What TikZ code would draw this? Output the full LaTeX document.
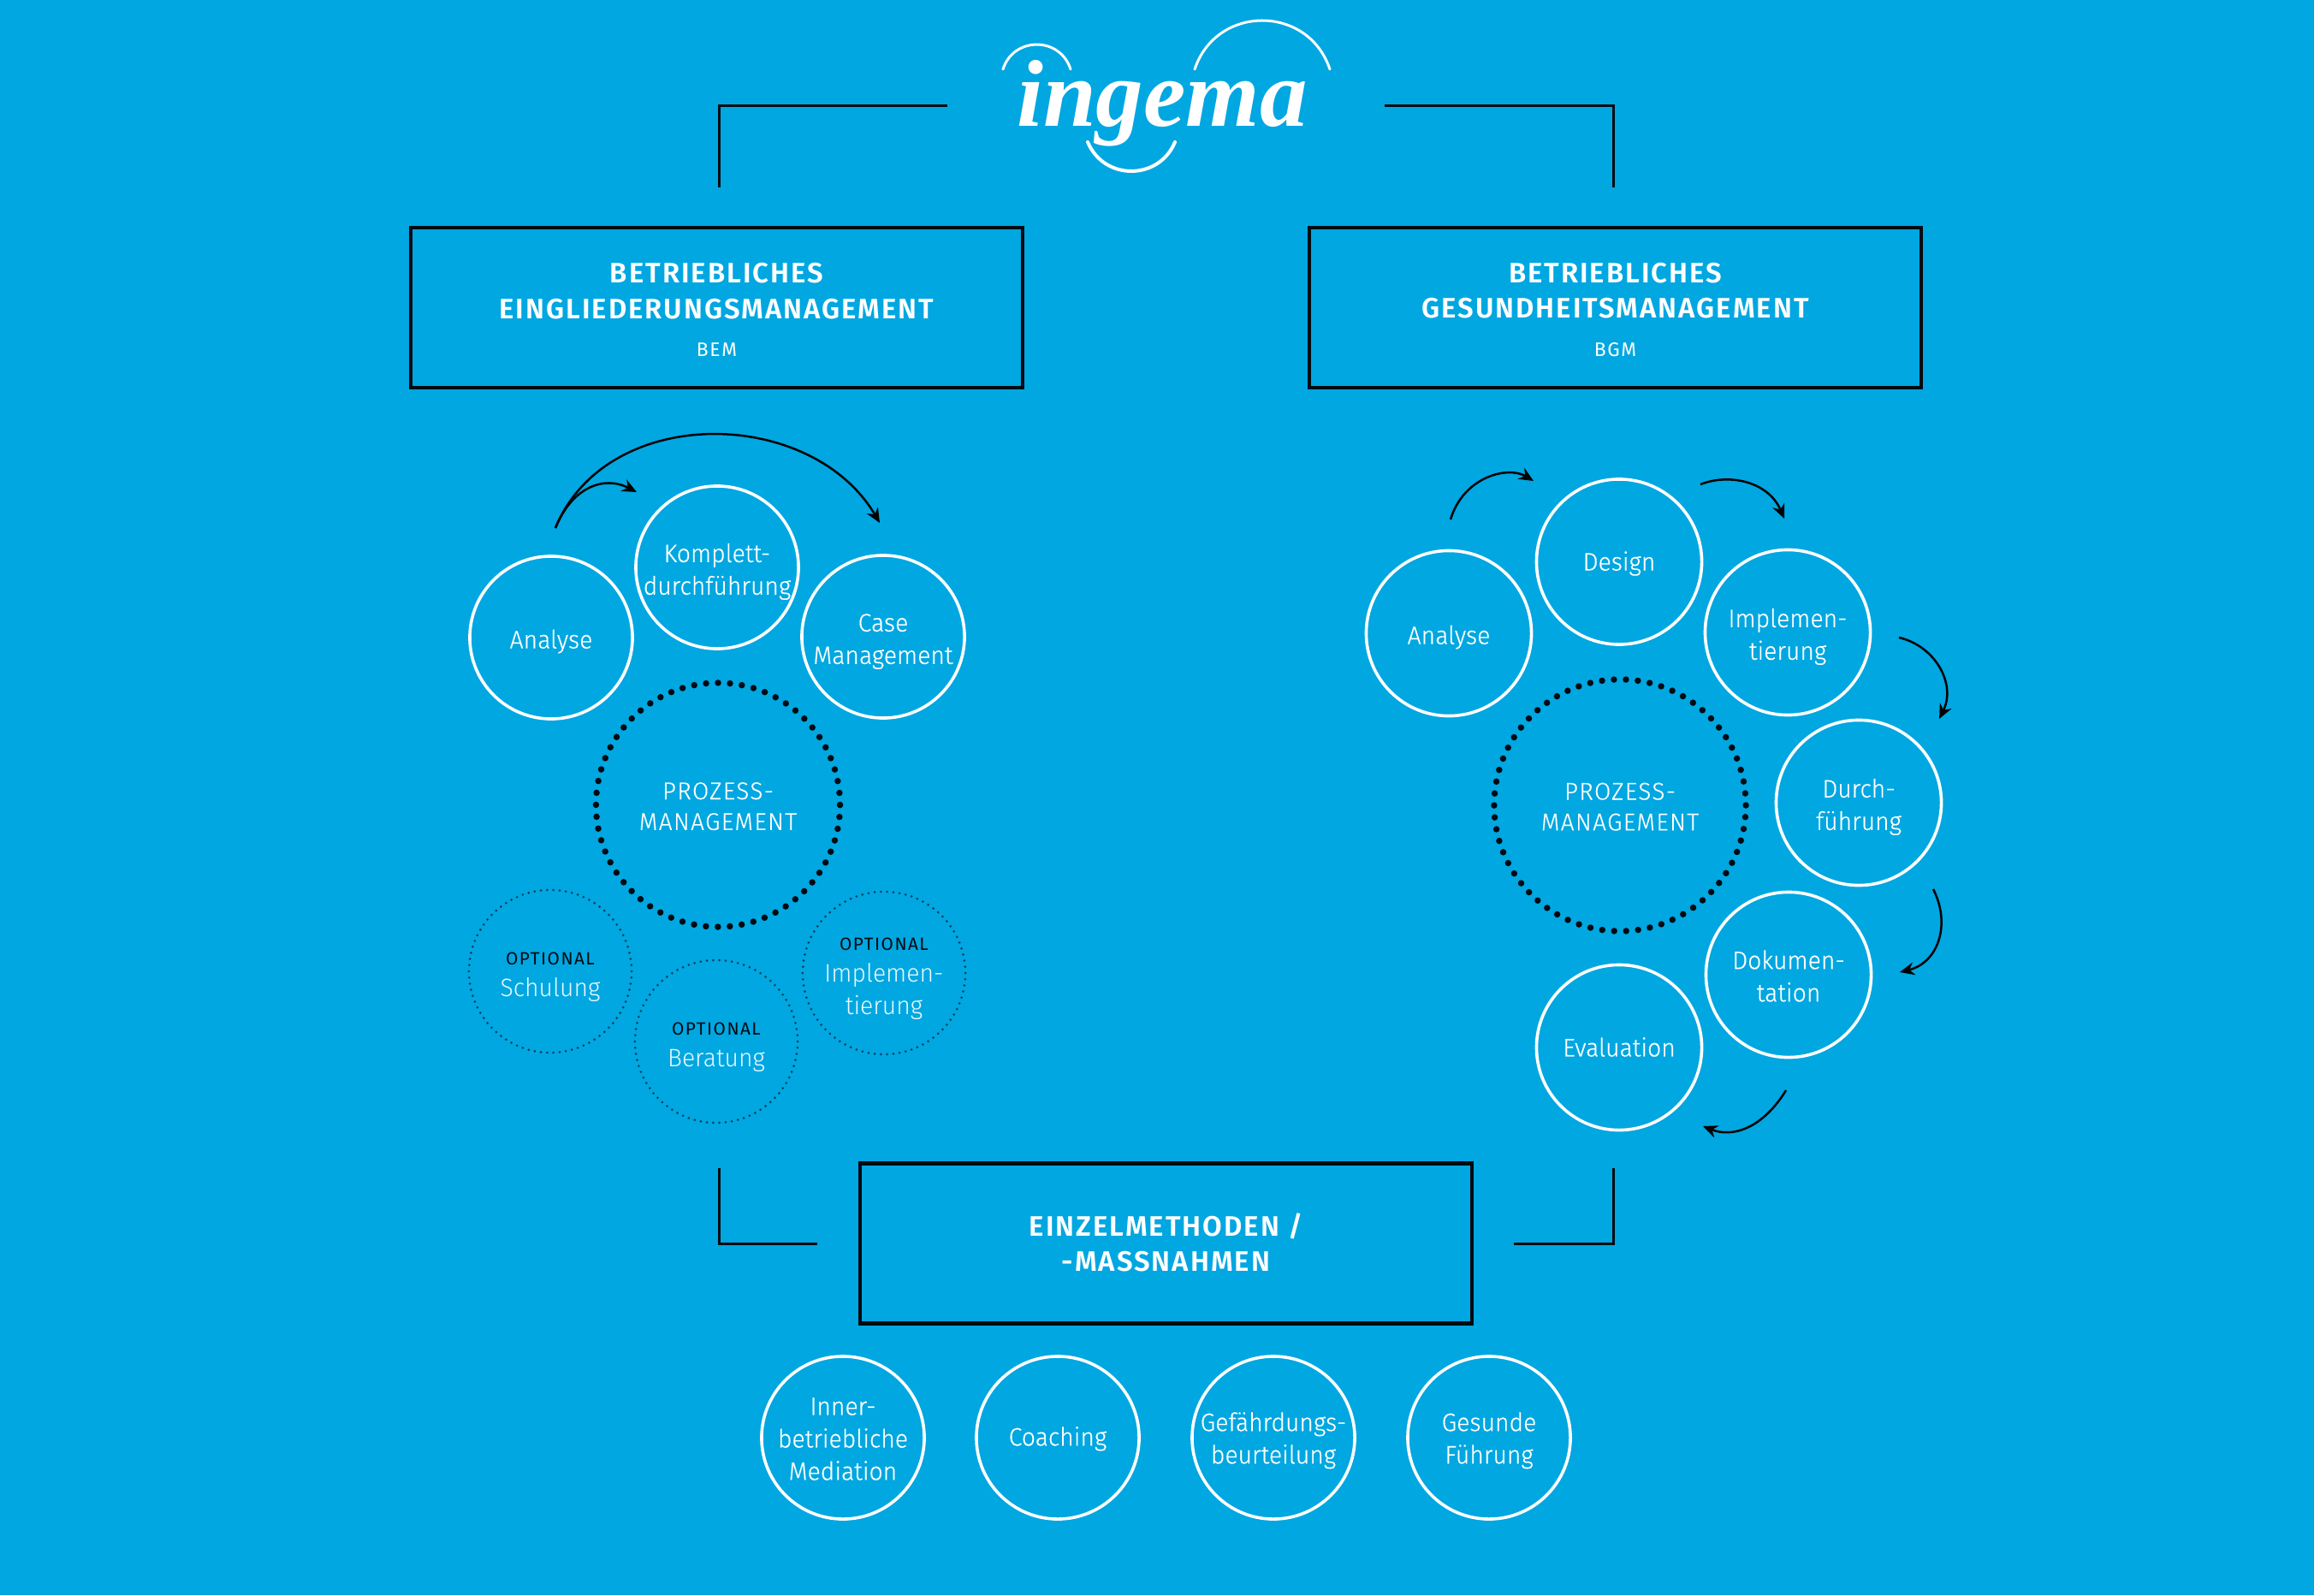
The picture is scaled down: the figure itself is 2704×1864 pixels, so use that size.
\documentclass[tikz,border=0pt]{standalone}
\usepackage{fontspec}
\usetikzlibrary{arrows.meta}
\newfontfamily\fl{Fira Sans Light}[FakeStretch=0.96]
\newfontfamily\fk{Fira Sans Light}[FakeStretch=0.96,FakeBold=0.3]
\newfontfamily\flsp{Fira Sans Light}[LetterSpace=5,FakeStretch=0.98,FakeBold=0.3]
\newfontfamily\fb{Fira Sans SemiBold}[LetterSpace=6]
\newfontfamily\fr{Fira Sans}[LetterSpace=7]
\newfontfamily\flogo{Liberation Serif Bold Italic}
\definecolor{bg}{HTML}{00A7E1}
\definecolor{ink}{HTML}{020B12}
\definecolor{faint}{HTML}{0B3F5F}
\newcommand{\up}[1]{\rule{0pt}{#1}}
\tikzset{
  x=0.01cm,y=-0.01cm,
  bubble/.style={circle,draw=white,line width=0.036cm,minimum size=1.90cm,inner sep=0pt,align=center,text=white,font=\fk\fontsize{8.4pt}{10.8pt}\selectfont},
  bigbubble/.style={bubble,minimum size=1.93cm},
  optbubble/.style={circle,draw=faint,line width=0.03cm,line cap=round,dash pattern=on 0pt off 0.0728cm,minimum size=1.90cm,inner sep=0pt,align=center,text=white!92!bg,font=\fl\fontsize{8.4pt}{10.8pt}\selectfont},
  hub/.style={circle,draw=ink,line width=0.075cm,line cap=round,minimum size=2.85cm,inner sep=0pt,align=center,text=white,font=\flsp\fontsize{8.1pt}{10.2pt}\selectfont},
  titlebox/.style={rectangle,draw=ink,line width=0.045cm,minimum width=7.15cm,minimum height=1.87cm,inner sep=0pt,align=center,text=white,font=\fb\fontsize{9.35pt}{11.7pt}\selectfont},
  elbow/.style={draw=ink,line width=0.03cm},
  flow/.style={draw=black,line width=0.025cm,-{Stealth[length=0.17cm,width=0.15cm]}},
  swoosh/.style={draw=white,line cap=round},
}
\newcommand{\optlabel}{\up{8.1pt}{\color{ink}\fr\fontsize{5.9pt}{7pt}\selectfont OPTIONAL}}
\newcommand{\sublabel}[1]{{\fr\fontsize{6.5pt}{7pt}\selectfont #1}}
\begin{document}
\begin{tikzpicture}
\useasboundingbox (0,0) rectangle (2704,1864);
\fill[bg] (0,0) rectangle (2704,1864);

% logo
\node[anchor=base,text=white,inner sep=0pt,font=\flogo\fontsize{31.6pt}{31.6pt}\selectfont] (logo) at (1358,148) {ingema};
\draw[swoosh,line width=0.03cm] (1172,81) .. controls +(12.1,-38.6) and +(-12.1,-38.6) .. (1251,81);
\draw[swoosh,line width=0.03cm] (1396,81) .. controls +(25.3,-76) and +(-25.3,-76) .. (1554,81);
\draw[swoosh,line width=0.04cm] (1271,166) .. controls +(18.9,45.3) and +(-18.9,45.3) .. (1373,166);

% boxes
\node[titlebox] (bem) at (837.5,359.5) {\up{8.05pt}BETRIEBLICHES\\EINGLIEDERUNGSMANAGEMENT\\[0.9pt]\sublabel{BEM}};
\node[titlebox] (bgm) at (1887.5,359.5) {\up{8.05pt}BETRIEBLICHES\\GESUNDHEITSMANAGEMENT\\[0.9pt]\sublabel{BGM}};
\node[titlebox] (einzel) at (1362.5,1453) {EINZELMETHODEN /\\-MASSNAHMEN\rule[-1pt]{0pt}{1pt}};

% elbows
\coordinate (tlA) at (1107,124);
\coordinate (tlB) at (840,219);
\coordinate (trA) at (1618,124);
\coordinate (trB) at (1885,219);
\coordinate (blA) at (840,1365);
\coordinate (blB) at (955,1453);
\coordinate (brA) at (1885,1365);
\coordinate (brB) at (1769,1453);
\draw[elbow] (tlA) -| (tlB);
\draw[elbow] (trA) -| (trB);
\draw[elbow] (blA) |- (blB);
\draw[elbow] (brA) |- (brB);

% left group
\node[bubble] (la) at (644,745) {\up{8.9pt}Analyse};
\node[bubble] (lk) at (838,663) {\up{9.05pt}Komplett-\\durchführung};
\node[bubble] (lc) at (1032,744) {\up{9.05pt}Case\\Management};
\node[hub,dash pattern=on 0pt off 0.1399cm] (lp) at (839,940.5) {\up{6.6pt}PROZESS-\\MANAGEMENT};
\node[optbubble] (ls) at (643,1135) {\optlabel\\[-0.3pt]Schulung};
\node[optbubble] (lb) at (837,1217) {\optlabel\\[-0.3pt]Beratung};
\node[optbubble] (li) at (1033,1137) {\optlabel\\[-0.3pt]Implemen-\\tierung};

% left arrows
\coordinate (lfrom) at (649,617);
\coordinate (lto1) at (744,575);
\coordinate (lto2) at (1028,611);
\draw[flow] (lfrom) .. controls +(19,-47) and +(-39,-20) .. (lto1);
\draw[flow] (lfrom) .. controls +(60,-146) and +(-80,-136) .. (lto2);

% right group
\node[bigbubble] (ra) at (1693,740) {\up{8.9pt}Analyse};
\node[bigbubble] (rd) at (1892,656.5) {\up{7.5pt}Design};
\node[bigbubble] (ri) at (2089,739) {\up{9.05pt}Implemen-\\tierung};
\node[bigbubble] (rf) at (2172,938) {\up{9.05pt}Durch-\\führung};
\node[bigbubble] (ro) at (2090,1139) {\up{7.1pt}Dokumen-\\tation};
\node[bigbubble] (re) at (1892,1224) {\rule[-2.95pt]{0pt}{11.85pt}Evaluation};
\node[hub,minimum size=2.94cm,dash pattern=on 0pt off 0.14cm] (rp) at (1893,941) {\up{6.6pt}PROZESS-\\MANAGEMENT};

% right arrows
\coordinate (a1s) at (1695,607); \coordinate (a1e) at (1792,562);
\coordinate (a2s) at (1987,566); \coordinate (a2e) at (2085,606);
\coordinate (a3s) at (2219,745); \coordinate (a3e) at (2266,840);
\coordinate (a4s) at (2259,1039); \coordinate (a4e) at (2220,1136);
\coordinate (a5s) at (2087,1274); \coordinate (a5e) at (1990,1316);
\draw[flow] (a1s) .. controls +(15,-50) and +(-30,-18) .. (a1e);
\draw[flow] (a2s) .. controls +(33,-13) and +(-19,-44) .. (a2e);
\draw[flow] (a3s) .. controls +(43,10) and +(20,-40) .. (a3e);
\draw[flow] (a4s) .. controls +(21,41) and +(45,-11) .. (a4e);
\draw[flow] (a5s) .. controls +(-27,44) and +(35,14) .. (a5e);

% bottom row
\node[bubble] (b1) at (985,1680) {\up{6.6pt}Inner-\\betriebliche\\Mediation};
\node[bubble] (b2) at (1236,1680) {\up{7pt}Coaching};
\node[bubble] (b3) at (1488,1680) {\up{8.1pt}Gefährdungs-\\beurteilung};
\node[bubble] (b4) at (1740,1680) {\up{8.1pt}Gesunde\\Führung};
\end{tikzpicture}
\end{document}
